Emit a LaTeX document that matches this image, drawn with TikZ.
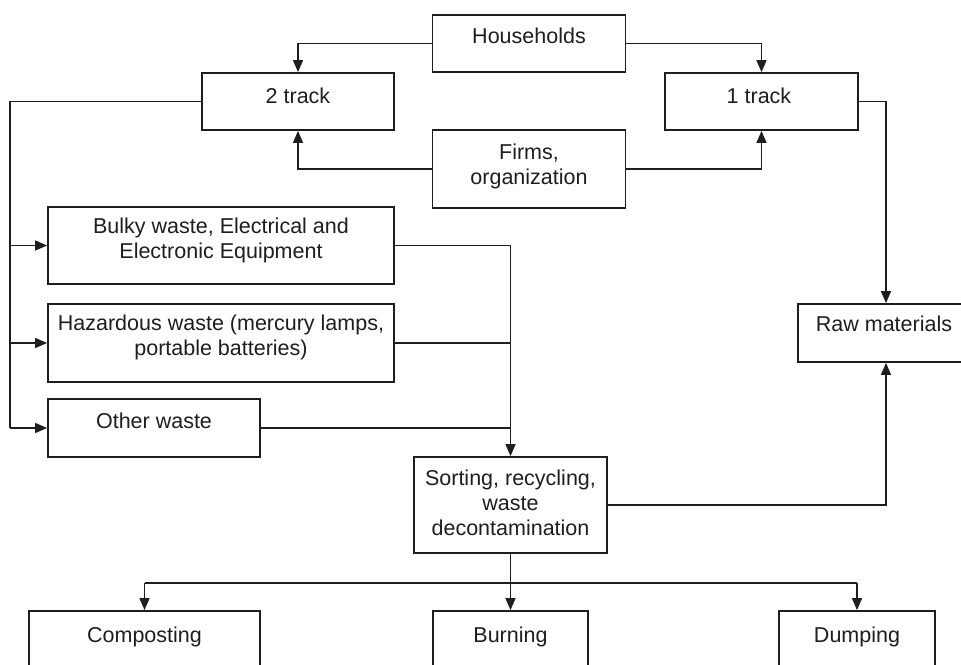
\documentclass[tikz,border=0pt]{standalone}
\usepackage{fontspec}
\setmainfont{Liberation Sans}
\usetikzlibrary{arrows.meta}
\definecolor{ink}{HTML}{1E1E1E}
\tikzset{
  box/.style={draw=ink, line width=1.8pt, rectangle, inner sep=0pt},
  lbl/.style={inner sep=0pt, align=center, text=ink, font=\fontsize{21.5}{25}\selectfont},
  conn/.style={draw=ink, line width=1.5pt},
  arr/.style={conn, -{Triangle[length=12pt,width=10pt]}}
}
\begin{document}
\begin{tikzpicture}[x=1pt,y=-1pt]
\useasboundingbox (0,0) rectangle (961,664);
\clip (0,0) rectangle (961,664);
\fill[white] (0,0) rectangle (961,664);
% boxes
\node[box, minimum width=193pt, minimum height=57pt] (hh) at (529,43.5) {};
\node[box, minimum width=192pt, minimum height=57pt] (t2) at (298,101.5) {};
\node[box, minimum width=193pt, minimum height=57pt] (t1) at (761.5,101.5) {};
\node[box, minimum width=193pt, minimum height=78pt] (firms) at (529,169) {};
\node[box, minimum width=346pt, minimum height=77pt] (bulky) at (221,245.5) {};
\node[box, minimum width=346pt, minimum height=78pt] (haz) at (221,343) {};
\node[box, minimum width=212pt, minimum height=58pt] (other) at (154,428) {};
\node[box, minimum width=176pt, minimum height=58pt] (raw) at (886,333) {};
\node[box, minimum width=193pt, minimum height=96pt] (sort) at (510.5,505) {};
\node[box, minimum width=231pt, minimum height=89pt] (comp) at (144.5,655.5) {};
\node[box, minimum width=155pt, minimum height=89pt] (burn) at (510.5,655.5) {};
\node[box, minimum width=156pt, minimum height=89pt] (dump) at (857,655.5) {};
% texts
\node[lbl, anchor=base] (hh-t) at (529,43) {Households};
\node[lbl, anchor=base] (t2-t) at (298,103) {2 track};
\node[lbl, anchor=base] (t1-t) at (759,103) {1 track};
\node[lbl] (firms-t) at (529,166) {Firms,\\organization};
\node[lbl] (bulky-t) at (221,240) {Bulky waste, Electrical and\\Electronic Equipment};
\node[lbl] (haz-t) at (221,337) {Hazardous waste (mercury lamps,\\portable batteries)};
\node[lbl, anchor=base] (other-t) at (154,428) {Other waste};
\node[lbl, anchor=base] (raw-t) at (884,331) {Raw materials};
\node[lbl] (sort-t) at (510.5,503) {Sorting, recycling,\\waste\\decontamination};
\node[lbl, anchor=base] (comp-t) at (144.5,642) {Composting};
\node[lbl, anchor=base] (burn-t) at (510.5,642) {Burning};
\node[lbl, anchor=base] (dump-t) at (857,642) {Dumping};
% coordinates
\coordinate (L) at (10,0);
\coordinate (B) at (0,583);
% connectors top
\draw[arr] (hh.west) -| (t2.north);
\draw[arr] (hh.east) -| (t1.north);
\draw[arr] (firms.west) -| (t2.south);
\draw[arr] (firms.east) -| (t1.south);
% left bus
\draw[conn] (t2.west) -| (other.west -| L);
\draw[arr] (bulky.west -| L) -- (bulky.west);
\draw[arr] (haz.west -| L) -- (haz.west);
\draw[arr] (other.west -| L) -- (other.west);
% right bus to sorting
\draw[arr] (bulky.east) -| (sort.north);
\draw[conn] (haz.east) -- (haz.east -| sort.north);
\draw[conn] (other.east) -- (other.east -| sort.north);
% raw materials
\draw[arr] (t1.east) -| (raw.north);
\draw[arr] (sort.east) -| (raw.south);
% bottom
\draw[arr] (sort.south) -- (burn.north);
\draw[conn] (B -| comp.north) -- (B -| dump.north);
\draw[arr] (B -| comp.north) -- (comp.north);
\draw[arr] (B -| dump.north) -- (dump.north);
\end{tikzpicture}
\end{document}
